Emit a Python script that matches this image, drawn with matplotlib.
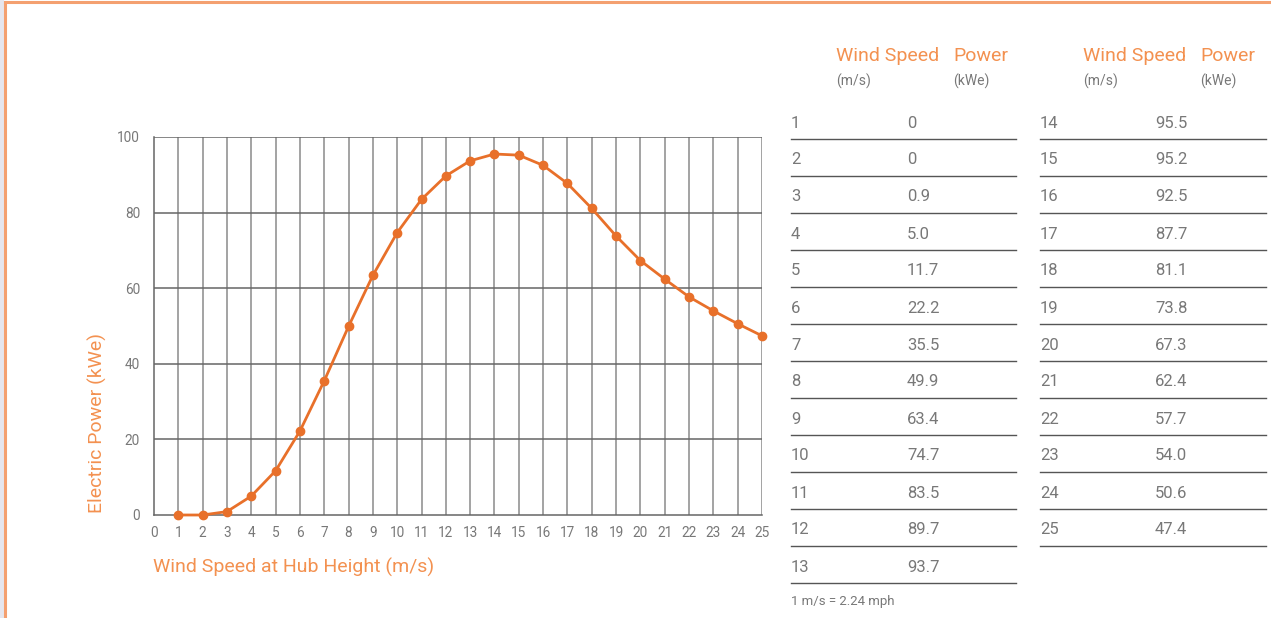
import matplotlib
matplotlib.use("Agg")
import matplotlib.pyplot as plt
from matplotlib.lines import Line2D
from matplotlib.patches import Rectangle

wind_speed = list(range(1, 26))
power = [0, 0, 0.9, 5.0, 11.7, 22.2, 35.5, 49.9, 63.4, 74.7, 83.5, 89.7, 93.7,
         95.5, 95.2, 92.5, 87.7, 81.1, 73.8, 67.3, 62.4, 57.7, 54.0, 50.6, 47.4]
power_labels = ["0", "0", "0.9", "5.0", "11.7", "22.2", "35.5", "49.9", "63.4", "74.7",
                "83.5", "89.7", "93.7", "95.5", "95.2", "92.5", "87.7", "81.1", "73.8",
                "67.3", "62.4", "57.7", "54.0", "50.6", "47.4"]
x_ticks = list(range(0, 26))
y_ticks = [0, 20, 40, 60, 80, 100]

W, H = 1271, 618
ORANGE_TXT = "#f39150"
ORANGE_LINE = "#e8702a"
GRAY_TXT = "#787878"
GRID = "#8a8a8a"
FONT = ["Roboto", "DejaVu Sans"]

plt.rcParams['font.family'] = FONT
fig = plt.figure(figsize=(W / 100, H / 100), dpi=100)

def fx(px):
    return px / W

def fy(py):
    return 1 - py / H

# frame decoration
fig.patches.append(Rectangle((0, 0), fx(4), 1, transform=fig.transFigure,
                             facecolor="#e6e6ee", edgecolor="none", zorder=0))
fig.lines.append(Line2D([fx(5), fx(5)], [0, fy(2)], transform=fig.transFigure,
                        color="#f4a070", lw=2.2))
fig.lines.append(Line2D([fx(5), 1], [fy(2), fy(2)], transform=fig.transFigure,
                        color="#f4a070", lw=2.2))

# chart
ax = fig.add_axes([fx(154), fy(515), fx(762) - fx(154), fy(137) - fy(515)])
ax.set_xlim(0, 25)
ax.set_ylim(0, 100)
for x in x_ticks[1:]:
    ax.axvline(x, color=GRID, lw=1.1, zorder=1)
for y in y_ticks[1:]:
    ax.axhline(y, color="#666666", lw=1.1, zorder=1)
ax.plot(wind_speed, power, color=ORANGE_LINE, lw=2.0, marker="o", ms=6, zorder=3,
        clip_on=False)
for s in ["top", "right"]:
    ax.spines[s].set_visible(False)
for s in ["left", "bottom"]:
    ax.spines[s].set_color("#666666")
    ax.spines[s].set_linewidth(1.1)
ax.set_xticks(x_ticks)
ax.set_yticks(y_ticks)
ax.set_xticklabels([str(v) for v in x_ticks])
ax.set_yticklabels([str(v) for v in y_ticks])
ax.tick_params(length=0, colors=GRAY_TXT, labelsize=9.8, pad=8)
ax.tick_params(axis="y", pad=10)

fig.text(fx(153), fy(567), "Wind Speed at Hub Height (m/s)", color=ORANGE_TXT,
         fontsize=14, ha="left", va="center")
fig.text(fx(97), fy(423), "Electric Power (kWe)", color=ORANGE_TXT,
         fontsize=14, ha="center", va="center", rotation=90)

# tables
def draw_table(x0, x1, xv, xh1, rows):
    fig.text(fx(xh1), fy(56), "Wind Speed", color=ORANGE_TXT, fontsize=14,
             ha="left", va="center")
    fig.text(fx(xh1 + 117), fy(56), "Power", color=ORANGE_TXT, fontsize=14,
             ha="left", va="center")
    fig.text(fx(xh1), fy(81), "(m/s)", color=GRAY_TXT, fontsize=10,
             ha="left", va="center")
    fig.text(fx(xh1 + 117), fy(81), "(kWe)", color=GRAY_TXT, fontsize=10,
             ha="left", va="center")
    for i, (ws, p) in enumerate(rows):
        yc = 123 + 37 * i
        fig.text(fx(x0), fy(yc), str(ws), color=GRAY_TXT, fontsize=12,
                 ha="left", va="center")
        fig.text(fx(xv), fy(yc), p, color=GRAY_TXT, fontsize=12,
                 ha="left", va="center")
        yl = 139 + 37 * i
        fig.lines.append(Line2D([fx(x0), fx(x1)], [fy(yl), fy(yl)],
                                transform=fig.transFigure, color="#555555", lw=1.0))

rows = list(zip(wind_speed, power_labels))
draw_table(791, 1016, 907, 836, rows[:13])
draw_table(1040, 1266, 1155, 1083, rows[13:])
fig.text(fx(791), fy(601), "1 m/s = 2.24 mph", color=GRAY_TXT, fontsize=9.5,
         ha="left", va="center")

fig.savefig("out.png", dpi=100)
